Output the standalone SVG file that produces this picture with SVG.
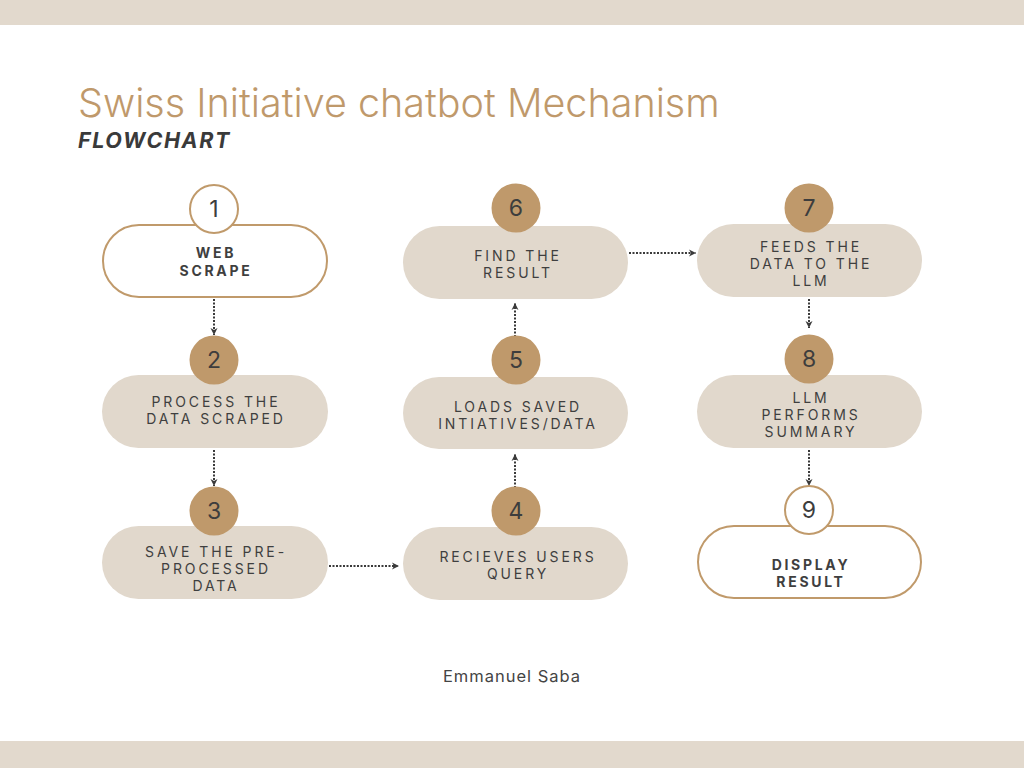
<svg xmlns="http://www.w3.org/2000/svg" width="1024" height="768" viewBox="0 0 1024 768">
<defs>
<style>
.band{fill:#e2d9cd}
.pill{fill:#e1d8cc}
.pillo{fill:#ffffff;stroke:#c09a6b;stroke-width:2}
.num{fill:#bf996b}
.numo{fill:#ffffff;stroke:#c09a6b;stroke-width:2}
.ntxt{font-family:Inter,"Liberation Sans",sans-serif;font-size:23px;fill:#3d3d3d;text-anchor:middle}
.lbl{font-family:Inter,"Liberation Sans",sans-serif;font-size:14px;letter-spacing:2.9px;fill:#3f3f3f;text-anchor:middle}
.lblb{font-family:Inter,"Liberation Sans",sans-serif;font-size:14px;font-weight:700;letter-spacing:2.7px;fill:#3f3f3f;text-anchor:middle}
.conn{stroke:#3a3a3a;stroke-width:2;stroke-dasharray:2 1.5;fill:none}
</style>
<marker id="arr" viewBox="0 0 8 8" refX="7" refY="4" markerWidth="8" markerHeight="8" markerUnits="userSpaceOnUse" orient="auto">
<path d="M0,0.5 L7,4 L0,7.5 L2,4 Z" fill="#3a3a3a"/>
</marker>
</defs>
<rect width="1024" height="768" fill="#ffffff"/>
<rect class="band" x="0" y="0" width="1024" height="25"/>
<rect class="band" x="0" y="741" width="1024" height="27"/>
<g id="title">
<text x="78" y="117" font-family="Inter,'Liberation Sans',sans-serif" font-size="39.5" font-weight="300" fill="#bf996b">Swiss Initiative chatbot Mechanism</text>
<text x="78" y="148" font-family="Inter,'Liberation Sans',sans-serif" font-size="21.5" font-weight="700" font-style="italic" letter-spacing="1.6" fill="#3a3a3a">FLOWCHART</text>
</g>
<g id="connectors">
<line class="conn" x1="214" y1="299" x2="214" y2="335" marker-end="url(#arr)"/>
<line class="conn" x1="214" y1="450" x2="214" y2="486" marker-end="url(#arr)"/>
<line class="conn" x1="329" y1="566" x2="399" y2="566" marker-end="url(#arr)"/>
<line class="conn" x1="515" y1="488" x2="515" y2="454" marker-end="url(#arr)"/>
<line class="conn" x1="515" y1="337" x2="515" y2="303" marker-end="url(#arr)"/>
<line class="conn" x1="629" y1="253" x2="696" y2="253" marker-end="url(#arr)"/>
<line class="conn" x1="809" y1="299" x2="809" y2="328" marker-end="url(#arr)"/>
<line class="conn" x1="809" y1="450" x2="809" y2="486" marker-end="url(#arr)"/>
</g>
<g id="node1">
<rect class="pillo" x="103" y="225" width="224" height="72" rx="36"/>
<circle class="numo" cx="214" cy="209" r="24"/>
<text class="ntxt" x="214" y="217">1</text>
<text class="lblb" x="216" y="258">WEB</text>
<text class="lblb" x="216" y="276">SCRAPE</text>
</g>
<g id="node2">
<rect class="pill" x="102" y="375" width="226" height="73" rx="36.5"/>
<circle class="num" cx="214" cy="360" r="24.5"/>
<text class="ntxt" x="214" y="368">2</text>
<text class="lbl" x="216" y="407">PROCESS THE</text>
<text class="lbl" x="216" y="424">DATA SCRAPED</text>
</g>
<g id="node3">
<rect class="pill" x="102" y="526" width="226" height="73" rx="36.5"/>
<circle class="num" cx="214" cy="511" r="24.5"/>
<text class="ntxt" x="214" y="519">3</text>
<text class="lbl" x="216" y="557">SAVE THE PRE-</text>
<text class="lbl" x="216" y="574">PROCESSED</text>
<text class="lbl" x="216" y="591">DATA</text>
</g>
<g id="node4">
<rect class="pill" x="403" y="527" width="225" height="73" rx="36.5"/>
<circle class="num" cx="516" cy="511" r="24.5"/>
<text class="ntxt" x="516" y="519">4</text>
<text class="lbl" x="518" y="562">RECIEVES USERS</text>
<text class="lbl" x="518" y="579">QUERY</text>
</g>
<g id="node5">
<rect class="pill" x="403" y="377" width="225" height="72" rx="36"/>
<circle class="num" cx="516" cy="360" r="24.5"/>
<text class="ntxt" x="516" y="368">5</text>
<text class="lbl" x="518" y="412">LOADS SAVED</text>
<text class="lbl" x="518" y="429">INTIATIVES/DATA</text>
</g>
<g id="node6">
<rect class="pill" x="403" y="226" width="225" height="73" rx="36.5"/>
<circle class="num" cx="516" cy="208" r="24.5"/>
<text class="ntxt" x="516" y="216">6</text>
<text class="lbl" x="518" y="261">FIND THE</text>
<text class="lbl" x="518" y="278">RESULT</text>
</g>
<g id="node7">
<rect class="pill" x="697" y="224" width="225" height="73" rx="36.5"/>
<circle class="num" cx="809" cy="208" r="24.5"/>
<text class="ntxt" x="809" y="216">7</text>
<text class="lbl" x="811" y="252">FEEDS THE</text>
<text class="lbl" x="811" y="269">DATA TO THE</text>
<text class="lbl" x="811" y="286">LLM</text>
</g>
<g id="node8">
<rect class="pill" x="697" y="375" width="225" height="73" rx="36.5"/>
<circle class="num" cx="809" cy="359" r="24.5"/>
<text class="ntxt" x="809" y="367">8</text>
<text class="lbl" x="811" y="403">LLM</text>
<text class="lbl" x="811" y="420">PERFORMS</text>
<text class="lbl" x="811" y="437">SUMMARY</text>
</g>
<g id="node9">
<rect class="pillo" x="698" y="526" width="223" height="72" rx="36"/>
<circle class="numo" cx="809" cy="510" r="24"/>
<text class="ntxt" x="809" y="518">9</text>
<text class="lblb" x="811" y="570">DISPLAY</text>
<text class="lblb" x="811" y="587">RESULT</text>
</g>
<g id="footer">
<text x="512" y="682" font-family="Inter,'Liberation Sans',sans-serif" font-size="16.5" letter-spacing="1" fill="#444444" text-anchor="middle">Emmanuel Saba</text>
</g>
</svg>
